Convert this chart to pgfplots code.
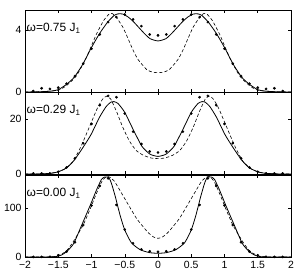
\documentclass[border=0pt]{standalone}
\usepackage{fontspec}
\setmainfont{Liberation Sans}
\usepackage{pgfplots}
\pgfplotsset{compat=1.18}
\pgfplotsset{panel/.style={
  scale only axis, width=266bp, height=82bp,
  xmin=-2, xmax=2, ymin=0,
  xtick={-2,-1.5,-1,-0.5,0,0.5,1,1.5,2},
  tick align=inside, tick pos=both,
  major tick length=3bp,
  axis line style={line width=0.7pt},
  every tick/.style={black, line width=0.5pt},
  tick label style={font=\fontsize{10.5}{12}\selectfont},
  xticklabel style={yshift=-1bp},
  /pgf/number format/assume math mode=true,
  clip=true,
},
solid curve/.style={black, line width=0.8pt, smooth, tension=0.35},
dashed curve/.style={black, line width=0.6pt, dash pattern=on 3.2pt off 2.2pt, smooth, tension=0.35},
dots/.style={only marks, mark=*, mark size=1.15pt, black},
}
\tikzset{lab/.style={anchor=north west, inner sep=0pt, xshift=1.5bp, yshift=-13bp, font=\fontsize{12}{14}\selectfont}}
\begin{document}
\begin{tikzpicture}
% ---------- panel 1: omega = 0.75 ----------
\begin{axis}[panel, at={(25bp,183bp)}, anchor=south west, ymax=5.3, ytick={0,4}, xticklabels={}]
\addplot[solid curve] coordinates {(-2,0) (-1.75,0.02) (-1.6,0.06) (-1.5,0.15) (-1.38,0.48) (-1.26,0.95) (-1.13,1.8) (-1.01,2.8) (-0.88,3.77) (-0.76,4.5) (-0.66,4.95) (-0.6,5.05) (-0.53,5.04) (-0.45,4.85) (-0.37,4.55) (-0.22,3.85) (-0.12,3.45) (0,3.3)
(0.12,3.45) (0.22,3.85) (0.37,4.55) (0.45,4.85) (0.53,5.04) (0.6,5.05) (0.66,4.95) (0.76,4.5) (0.88,3.77) (1.01,2.8) (1.13,1.8) (1.26,0.95) (1.38,0.48) (1.5,0.15) (1.6,0.06) (1.75,0.02) (2,0)};
\addplot[dashed curve] coordinates {(-2,0) (-1.75,0.02) (-1.5,0.12) (-1.38,0.4) (-1.23,1.03) (-1.08,2.2) (-0.93,3.7) (-0.82,4.6) (-0.74,5.02) (-0.69,5.08) (-0.63,4.85) (-0.53,4.2) (-0.45,3.45) (-0.38,2.75) (-0.3,2.1) (-0.17,1.45) (-0.08,1.28) (0,1.25)
(0.08,1.28) (0.17,1.45) (0.3,2.1) (0.38,2.75) (0.45,3.45) (0.53,4.2) (0.63,4.85) (0.69,5.08) (0.74,5.02) (0.82,4.6) (0.93,3.7) (1.08,2.2) (1.23,1.03) (1.38,0.4) (1.5,0.12) (1.75,0.02) (2,0)};
\addplot[dots] coordinates {(-1.875,0.06) (-1.75,0.24) (-1.625,0.2) (-1.5,0.28) (-1.375,0.54) (-1.25,1.03) (-1.125,1.83) (-1,2.8) (-0.875,3.72) (-0.75,4.52) (-0.625,4.84) (-0.5,5.01) (-0.375,4.69) (-0.25,4.26) (-0.125,3.72) (0,3.66)
(0.125,3.72) (0.25,4.26) (0.375,4.69) (0.5,5.01) (0.625,4.84) (0.75,4.52) (0.875,3.72) (1,2.8) (1.125,1.83) (1.25,1.03) (1.375,0.54) (1.5,0.28) (1.625,0.2) (1.75,0.24) (1.875,0.06)};
\node[lab] at (rel axis cs:0,1) {ω=0.75 J\textsubscript{1}};
\end{axis}
% ---------- panel 2: omega = 0.29 ----------
\begin{axis}[panel, at={(25bp,101bp)}, anchor=south west, ymax=29.8, ytick={0,20}, xticklabels={}]
\addplot[solid curve] coordinates {(-2,0) (-1.75,0.05) (-1.6,0.3) (-1.5,0.8) (-1.37,2.3) (-1.26,5.0) (-1.14,9.2) (-1.01,14.2) (-0.88,20.6) (-0.78,24.5) (-0.71,26.1) (-0.66,26.3) (-0.6,25.6) (-0.5,22.4) (-0.37,16.0) (-0.24,10.0) (-0.12,7.2) (0,6.4)
(0.12,7.2) (0.24,10.0) (0.37,16.0) (0.5,22.4) (0.6,25.6) (0.66,26.3) (0.71,26.1) (0.78,24.5) (0.88,20.6) (1.01,14.2) (1.14,9.2) (1.26,5.0) (1.37,2.3) (1.5,0.8) (1.6,0.3) (1.75,0.05) (2,0)};
\addplot[dashed curve] coordinates {(-2,0) (-1.75,0.05) (-1.55,0.5) (-1.41,1.7) (-1.28,4.5) (-1.16,9.9) (-1.03,17.2) (-0.91,24.0) (-0.83,27.3) (-0.77,28.3) (-0.71,27.2) (-0.62,22.5) (-0.53,17.0) (-0.43,12.0) (-0.33,8.6) (-0.22,6.8) (-0.1,5.8) (0,5.6)
(0.1,5.8) (0.22,6.8) (0.33,8.6) (0.43,12.0) (0.53,17.0) (0.62,22.5) (0.71,27.2) (0.77,28.3) (0.83,27.3) (0.91,24.0) (1.03,17.2) (1.16,9.9) (1.28,4.5) (1.41,1.7) (1.55,0.5) (1.75,0.05) (2,0)};
\addplot[dots] coordinates {(-1.875,0.2) (-1.75,0.2) (-1.625,0.2) (-1.5,0.8) (-1.375,2.4) (-1.25,5.7) (-1.125,11.2) (-1,18.2) (-0.875,25) (-0.75,28.4) (-0.625,27.9) (-0.5,22) (-0.375,15.4) (-0.25,10.9) (-0.125,8.2) (0,7.8)
(0.125,8.2) (0.25,10.9) (0.375,15.4) (0.5,22) (0.625,27.9) (0.75,28.4) (0.875,25) (1,18.2) (1.125,11.2) (1.25,5.7) (1.375,2.4) (1.5,0.8) (1.625,0.2) (1.75,0.2) (1.875,0.2)};
\node[lab] at (rel axis cs:0,1) {ω=0.29 J\textsubscript{1}};
\end{axis}
% ---------- panel 3: omega = 0.00 ----------
\begin{axis}[panel, at={(25bp,18bp)}, anchor=south west, ymax=167, ytick={0,100},
  xticklabels={−2,−1.5,−1,−0.5,0,0.5,1,1.5,2}]
\addplot[solid curve] coordinates {(-2,0) (-1.75,0) (-1.55,0.5) (-1.45,4) (-1.37,11.5) (-1.27,27) (-1.15,64) (-1.02,105) (-0.92,138) (-0.85,158) (-0.8,163) (-0.74,162) (-0.7,150) (-0.64,122) (-0.57,85) (-0.5,55) (-0.4,29) (-0.27,15) (-0.13,9) (0,7.5)
(0.13,9) (0.27,15) (0.4,29) (0.5,55) (0.57,85) (0.64,122) (0.7,150) (0.74,162) (0.8,163) (0.85,158) (0.92,138) (1.02,105) (1.15,64) (1.27,27) (1.37,11.5) (1.45,4) (1.55,0.5) (1.75,0) (2,0)};
\addplot[dashed curve] coordinates {(-2,0) (-1.75,0) (-1.55,1) (-1.48,4) (-1.38,12) (-1.28,30) (-1.13,64) (-1.02,98) (-0.93,128) (-0.84,155) (-0.77,164) (-0.72,162) (-0.66,155) (-0.6,142) (-0.47,112) (-0.33,80) (-0.25,66) (-0.15,50) (-0.07,41) (0,38)
(0.07,41) (0.15,50) (0.25,66) (0.33,80) (0.47,112) (0.6,142) (0.66,155) (0.72,162) (0.77,164) (0.84,155) (0.93,128) (1.02,98) (1.13,64) (1.28,30) (1.38,12) (1.48,4) (1.55,1) (1.75,0) (2,0)};
\addplot[dots] coordinates {(-1.875,0.2) (-1.75,0.3) (-1.625,0.5) (-1.5,3.5) (-1.375,11) (-1.25,30) (-1.125,65) (-1,105) (-0.875,145) (-0.75,160) (-0.625,106) (-0.5,56) (-0.375,28) (-0.25,15.6) (-0.125,11.6) (0,10.5)
(0.125,11.6) (0.25,15.6) (0.375,28) (0.5,56) (0.625,106) (0.75,160) (0.875,145) (1,105) (1.125,65) (1.25,30) (1.375,11) (1.5,3.5) (1.625,0.5) (1.75,0.3) (1.875,0.2)};
\node[lab] at (rel axis cs:0,1) {ω=0.00 J\textsubscript{1}};
\end{axis}
\pgfresetboundingbox
\path[use as bounding box] (0,0) rectangle (300bp,275bp);
\end{tikzpicture}
\end{document}
